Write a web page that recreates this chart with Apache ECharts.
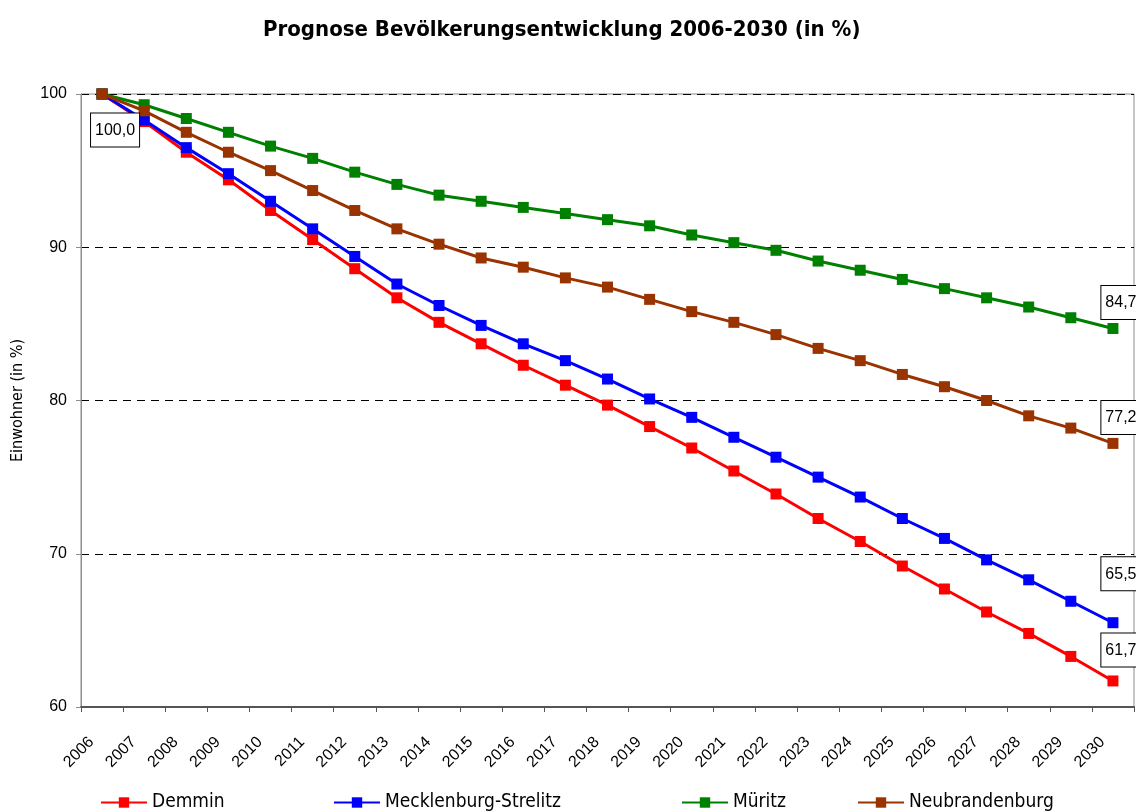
<!DOCTYPE html>
<html>
<head>
<meta charset="utf-8">
<script src="https://cdn.jsdelivr.net/npm/echarts@6/dist/echarts.min.js"></script>
<style>
  html, body { margin: 0; padding: 0; background: #fff; }
  #chart { width: 1136px; height: 812px; }
</style>
</head>
<body>
<div id="chart"></div>
<script>
const years = ['2006', '2007', '2008', '2009', '2010', '2011', '2012', '2013', '2014', '2015', '2016', '2017', '2018',
  '2019', '2020', '2021', '2022', '2023', '2024', '2025', '2026', '2027', '2028', '2029', '2030']
const yTicks = [60, 70, 80, 90, 100]

const demmin = [100.0, 98.2, 96.2, 94.4, 92.4, 90.5, 88.6, 86.7, 85.1, 83.7, 82.3, 81.0, 79.7,
  78.3, 76.9, 75.4, 73.9, 72.3, 70.8, 69.2, 67.7, 66.2, 64.8, 63.3, 61.7]
const mecklenburg = [100.0, 98.3, 96.5, 94.8, 93.0, 91.2, 89.4, 87.6, 86.2, 84.9, 83.7, 82.6, 81.4,
  80.1, 78.9, 77.6, 76.3, 75.0, 73.7, 72.3, 71.0, 69.6, 68.3, 66.9, 65.5]
const mueritz = [100.0, 99.3, 98.4, 97.5, 96.6, 95.8, 94.9, 94.1, 93.4, 93.0, 92.6, 92.2, 91.8,
  91.4, 90.8, 90.3, 89.8, 89.1, 88.5, 87.9, 87.3, 86.7, 86.1, 85.4, 84.7]
const neubrandenburg = [100.0, 98.9, 97.5, 96.2, 95.0, 93.7, 92.4, 91.2, 90.2, 89.3, 88.7, 88.0, 87.4,
  86.6, 85.8, 85.1, 84.3, 83.4, 82.6, 81.7, 80.9, 80.0, 79.0, 78.2, 77.2]

const font = '"Liberation Sans", Arial, sans-serif'
const narrow = '"Liberation Sans Narrow", "DejaVu Sans Condensed", "Liberation Sans", sans-serif'

const boxLabel = {
  show: true,
  color: '#000',
  fontFamily: font,
  fontSize: 16,
  backgroundColor: '#fff',
  borderColor: '#000',
  borderWidth: 1,
  padding: [9, 4, 8, 4],
  formatter: p => p.value.toFixed(1).replace('.', ',')
}

// puts a boxed label on the first and/or last point only
const withLabels = (values, endDist, firstLabel) => values.map((v, i) => {
  if (i === values.length - 1) {
    return { value: v, label: Object.assign({}, boxLabel, { position: 'top', distance: endDist, offset: [8, 0] }) }
  }
  if (i === 0 && firstLabel) {
    return { value: v, label: Object.assign({}, boxLabel, { position: 'bottom', distance: 14, offset: [13, 0] }) }
  }
  return v
})

const mkSeries = (name, color, data) => ({
  name,
  type: 'line',
  data,
  symbol: 'rect',
  symbolSize: 11,
  lineStyle: { color, width: 3 },
  itemStyle: { color },
  label: { show: false },
  emphasis: { disabled: true },
  animation: false
})

const names = ['Demmin', 'Mecklenburg-Strelitz', 'Müritz', 'Neubrandenburg']
const legendLeft = [100, 333, 681, 857]

const chart = echarts.init(document.getElementById('chart'))
chart.setOption({
  backgroundColor: '#fff',
  title: {
    text: 'Prognose Bevölkerungsentwicklung 2006-2030 (in %)',
    left: 258,
    top: 14,
    textStyle: { fontFamily: narrow, fontSize: 22, fontWeight: 'bold', color: '#000' }
  },
  legend: names.map((n, i) => ({
    data: [n],
    left: legendLeft[i],
    top: 793,
    padding: 0,
    itemWidth: 46,
    itemHeight: 13,
    textStyle: { fontFamily: narrow, fontSize: 19, color: '#000', letterSpacing: 0.8 },
    selectedMode: false
  })),
  grid: {
    left: 81,
    right: 2,
    top: 94,
    bottom: 105,
    outerBoundsMode: 'none',
    show: true,
    borderColor: '#8c8c8c',
    borderWidth: 1
  },
  xAxis: {
    type: 'category',
    data: years,
    boundaryGap: true,
    axisLine: { lineStyle: { color: '#555', width: 2 } },
    axisTick: { show: true, length: 5, lineStyle: { color: '#555' } },
    axisLabel: { rotate: 45, fontFamily: font, fontSize: 16, color: '#000', margin: 22, interval: 0, padding: [0, 15, 0, 0] }
  },
  yAxis: {
    type: 'value',
    min: yTicks[0],
    max: yTicks[yTicks.length - 1],
    interval: 10,
    name: 'Einwohner (in %)',
    nameLocation: 'middle',
    nameGap: 55,
    nameTextStyle: { fontFamily: narrow, fontSize: 16, color: '#000' },
    axisLine: { show: true, lineStyle: { color: '#8c8c8c' } },
    axisTick: { show: true, length: 5, lineStyle: { color: '#8c8c8c' } },
    axisLabel: { fontFamily: font, fontSize: 16, color: '#000', margin: 14 },
    splitLine: { show: true, lineStyle: { color: '#000', type: [8, 6], width: 1 } }
  },
  series: [
    mkSeries(names[0], '#ff0000', withLabels(demmin, 9, false)),
    mkSeries(names[1], '#0000ff', withLabels(mecklenburg, 27, false)),
    mkSeries(names[2], '#008000', withLabels(mueritz, 4, false)),
    mkSeries(names[3], '#993300', withLabels(neubrandenburg, 4, true))
  ]
})
</script>
</body>
</html>
